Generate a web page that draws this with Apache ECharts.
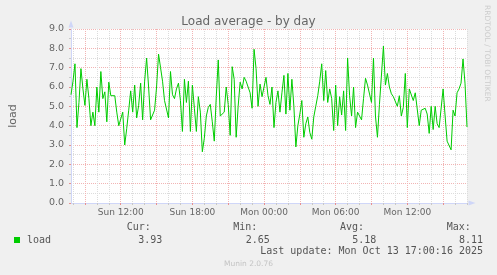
<!DOCTYPE html>
<html><head><meta charset="utf-8">
<script src="https://cdn.jsdelivr.net/npm/echarts@6/dist/echarts.min.js"></script>
<style>html,body{margin:0;padding:0;background:#f0f0f0;}#c{width:497px;height:275px;}</style>
</head><body><div id="c"></div>
<script>
// 10-minute samples from Sun 07:50 to Mon 17:00
const startDay = 'Sun';
const startMinutes = 7 * 60 + 50;
const stepMinutes = 10;
const loadValues = [
5.6,6.3,7.2,3.9,5.2,6.95,5.9,5.05,6.4,5.4,4.0,4.7,4.0,6.0,4.7,6.8,5.4,5.75,4.2,6.25,5.55,5.5,5.55,4.7,4.0,3.9,4.7,3.0,3.85,4.8,5.8,4.7,6.1,4.4,
5.05,6.2,4.3,6.3,7.5,6.0,4.3,4.3,4.8,6.0,7.7,7.0,6.3,5.3,5.4,4.4,6.8,5.6,5.4,5.9,6.2,5.3,3.7,6.4,5.2,6.3,3.7,6.1,4.9,3.7,5.5,4.7,2.65,3.35,
4.5,4.95,5.1,4.2,3.2,5.5,7.4,4.5,4.6,4.7,6.0,5.1,3.5,7.05,6.4,3.4,5.0,6.25,5.9,6.5,6.3,6.0,5.7,4.9,7.95,6.95,5.0,6.15,5.5,6.0,6.5,5.55,5.1,
6.0,3.9,5.2,5.8,4.7,5.7,6.6,4.6,6.7,4.8,6.4,5.0,2.9,4.0,4.6,5.3,3.4,4.1,4.45,3.65,3.3,4.45,5.0,5.55,6.3,7.2,5.3,6.85,5.2,5.9,5.4,3.75,6.1,4.0,
5.5,4.55,5.8,3.75,7.5,5.55,4.5,6.0,3.9,4.7,4.8,4.3,5.4,6.45,6.1,6.0,5.2,7.5,4.5,3.4,5.1,5.05,8.11,6.1,6.7,6.0,5.65,5.5,5.4,5.0,5.55,4.5,4.95,6.7,
3.9,5.9,6.0,5.3,5.7,5.7,4.0,4.8,4.8,4.9,4.6,3.6,5.0,3.8,5.0,4.1,3.9,3.85,5.9,4.5,3.2,3.1,2.75,4.8,4.5,5.7,5.9,6.2,7.45,6.2,3.93
];
const yTicks = [0,1,2,3,4,5,6,7,8,9];
const statNames = ['Cur:', 'Min:', 'Avg:', 'Max:'];
const statValues = ['3.93', '2.65', '5.18', '8.11'];
const lastUpdate = 'Last update: Mon Oct 13 17:00:16 2025';

const days = ['Sun','Mon'];
const minutesOf = [];
const categories = loadValues.map((v, i) => {
  const m = startMinutes + i * stepMinutes;
  minutesOf.push(m);
  const d = days[Math.floor(m / 1440)];
  const mm = m % 1440;
  const h = String(Math.floor(mm / 60)).padStart(2, '0');
  const mi = String(mm % 60).padStart(2, '0');
  return d + ' ' + h + ':' + mi;
});
const isHour = i => minutesOf[i] % 60 === 0;
const is3h = i => minutesOf[i] % 180 === 0;
const is6h = i => minutesOf[i] % 360 === 0;

const TXT = '#666666';
const FONT = 'DejaVu Sans';
const MONO = 'DejaVu Sans Mono';
const GRIDC = '#dcdcdc';
const MGRIDC = '#f2b4b4';
const AXISC = '#CFD6F8';

const chart = echarts.init(document.getElementById('c'), null, {renderer: 'canvas'});
const graphics = [];
const statX = [126.7, 233.3, 340, 446.7];
const valX = [138.3, 245.7, 352.3, 459];
statNames.forEach((n, k) => {
  graphics.push({type: 'text', left: statX[k], top: 222, style: {text: n, fill: '#555', font: '10px "' + MONO + '"'}});
  graphics.push({type: 'text', left: valX[k], top: 235, style: {text: statValues[k], fill: '#555', font: '10px "' + MONO + '"'}});
});
graphics.push({type: 'text', right: 14, top: 246, style: {text: lastUpdate, fill: '#555', font: '10px "' + MONO + '"'}});
graphics.push({type: 'text', left: 'center', top: 260, style: {text: 'Munin 2.0.76', fill: '#c4c4c4', font: '7.5px "' + FONT + '"'}});
graphics.push({type: 'text', x: 491, y: 5, rotation: -Math.PI / 2, style: {text: 'RRDTOOL / TOBI OETIKER', fill: '#cccccc', font: '7.5px "' + FONT + '"', textAlign: 'left', textVerticalAlign: 'top'}});

chart.setOption({
  backgroundColor: '#f0f0f0',
  animation: false,
  title: {text: 'Load average - by day', left: 'center', top: 11,
    textStyle: {fontFamily: FONT, fontSize: 12, fontWeight: 'normal', color: TXT}},
  legend: {data: ['load'], left: 14, top: 235, padding: 0, icon: 'rect', itemWidth: 6, itemHeight: 6,
    textStyle: {fontFamily: MONO, fontSize: 10, color: '#555', padding: [0, 0, 0, 2]}},
  grid: {left: 67, top: 29, width: 400, height: 174, show: true, backgroundColor: '#ffffff', borderWidth: 0},
  xAxis: [{
    type: 'category', data: categories, boundaryGap: false,
    axisLine: {show: true, lineStyle: {color: AXISC}, symbol: ['none', 'triangle'], symbolSize: [5, 7], symbolOffset: [0, 5]},
    axisTick: {show: true, interval: (i) => isHour(i) && !is3h(i), length: 2, lineStyle: {color: '#c8c8c8'}},
    axisLabel: {interval: (i) => is6h(i), color: TXT, fontFamily: FONT, fontSize: 9, margin: 5},
    splitLine: {show: true, interval: (i) => isHour(i) && !is3h(i), lineStyle: {color: GRIDC, type: [1, 1]}}
  }, {
    type: 'category', data: categories, boundaryGap: false, position: 'bottom',
    axisLine: {show: false},
    axisTick: {show: true, interval: (i) => is3h(i), length: 2, lineStyle: {color: '#e89090'}},
    axisLabel: {show: false},
    splitLine: {show: true, interval: (i) => is3h(i), lineStyle: {color: MGRIDC, type: [1, 1]}}
  }],
  yAxis: {
    type: 'value', min: yTicks[0], max: yTicks[yTicks.length - 1], interval: 1,
    name: 'load', nameLocation: 'middle', nameGap: 52, nameRotate: 90,
    nameTextStyle: {fontFamily: FONT, fontSize: 11, color: TXT},
    axisLine: {show: true, lineStyle: {color: AXISC}, symbol: ['none', 'triangle'], symbolSize: [5, 7], symbolOffset: [0, 5]},
    axisTick: {show: true, length: 2, lineStyle: {color: '#e89090'}},
    minorTick: {show: true, splitNumber: 2, length: 2, lineStyle: {color: '#c8c8c8'}},
    axisLabel: {formatter: v => v.toFixed(1), color: TXT, fontFamily: FONT, fontSize: 9.5, margin: 7},
    splitLine: {show: true, lineStyle: {color: MGRIDC, type: [1, 1]}},
    minorSplitLine: {show: true, lineStyle: {color: GRIDC, type: [1, 1]}}
  },
  series: [{
    name: 'load', type: 'line', data: loadValues, xAxisIndex: 0, symbol: 'none',
    lineStyle: {color: '#00cc00', width: 1}, itemStyle: {color: '#00cc00'}
  }],
  graphic: graphics
});
</script></body></html>
